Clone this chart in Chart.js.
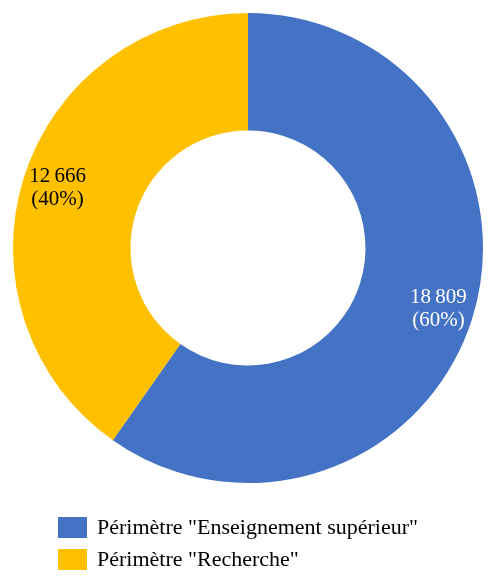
<!DOCTYPE html>
<html>
<head>
<meta charset="utf-8">
<script src="https://cdn.jsdelivr.net/npm/chart.js@4.4.0/dist/chart.umd.min.js"></script>
<style>
  html, body { margin: 0; padding: 0; background: #fff; }
</style>
</head>
<body>
<canvas id="donut" width="496" height="586"></canvas>
<script>
// Chart values
var categories = ['Périmètre "Enseignement supérieur"', 'Périmètre "Recherche"'];
var values = [18809, 12666];
var percentLabels = ["(60%)", "(40%)"];
var valueLabels = ["18\u202F809", "12\u202F666"];
var colors = ["#4472C4", "#FFC000"];
var labelColors = ["#ffffff", "#000000"];

var FONT = '"Liberation Serif", serif';

// Labels drawn inside each slice
var sliceLabels = {
  id: "sliceLabels",
  afterDatasetsDraw: function (chart) {
    var ctx = chart.ctx;
    var arcs = chart.getDatasetMeta(0).data;
    ctx.save();
    ctx.font = "21px " + FONT;
    ctx.textAlign = "center";
    ctx.textBaseline = "middle";
    for (var i = 0; i < arcs.length; i++) {
      var a = arcs[i];
      var mid = (a.startAngle + a.endAngle) / 2;
      var r = a.innerRadius + (a.outerRadius - a.innerRadius) * 0.7;
      var x = a.x + Math.cos(mid) * r;
      var y = a.y + Math.sin(mid) * r;
      ctx.fillStyle = labelColors[i];
      ctx.fillText(valueLabels[i], x, y - 11);
      ctx.fillText(percentLabels[i], x, y + 12);
    }
    ctx.restore();
  },
};

// Legend stacked under the doughnut, left aligned
var stackedLegend = {
  id: "stackedLegend",
  afterDraw: function (chart) {
    var ctx = chart.ctx;
    ctx.save();
    ctx.font = "22px " + FONT;
    ctx.textAlign = "left";
    ctx.textBaseline = "middle";
    for (var i = 0; i < categories.length; i++) {
      var top = 517 + i * 32;
      ctx.fillStyle = colors[i];
      ctx.fillRect(58, top, 29, 21);
      ctx.fillStyle = "#000";
      ctx.fillText(categories[i], 97, top + 11);
    }
    ctx.restore();
  },
};

var ctx = document.getElementById("donut").getContext("2d");
var donut = new Chart(ctx, {
  type: "doughnut",
  data: {
    labels: categories,
    datasets: [
      {
        data: values,
        backgroundColor: colors,
        borderWidth: 0,
      },
    ],
  },
  options: {
    responsive: false,
    animation: false,
    cutout: "50%",
    layout: { padding: { top: 13, left: 13, right: 13, bottom: 103 } },
    plugins: {
      legend: { display: false },
      tooltip: { enabled: false },
    },
  },
  plugins: [sliceLabels, stackedLegend],
});
</script>
</body>
</html>
